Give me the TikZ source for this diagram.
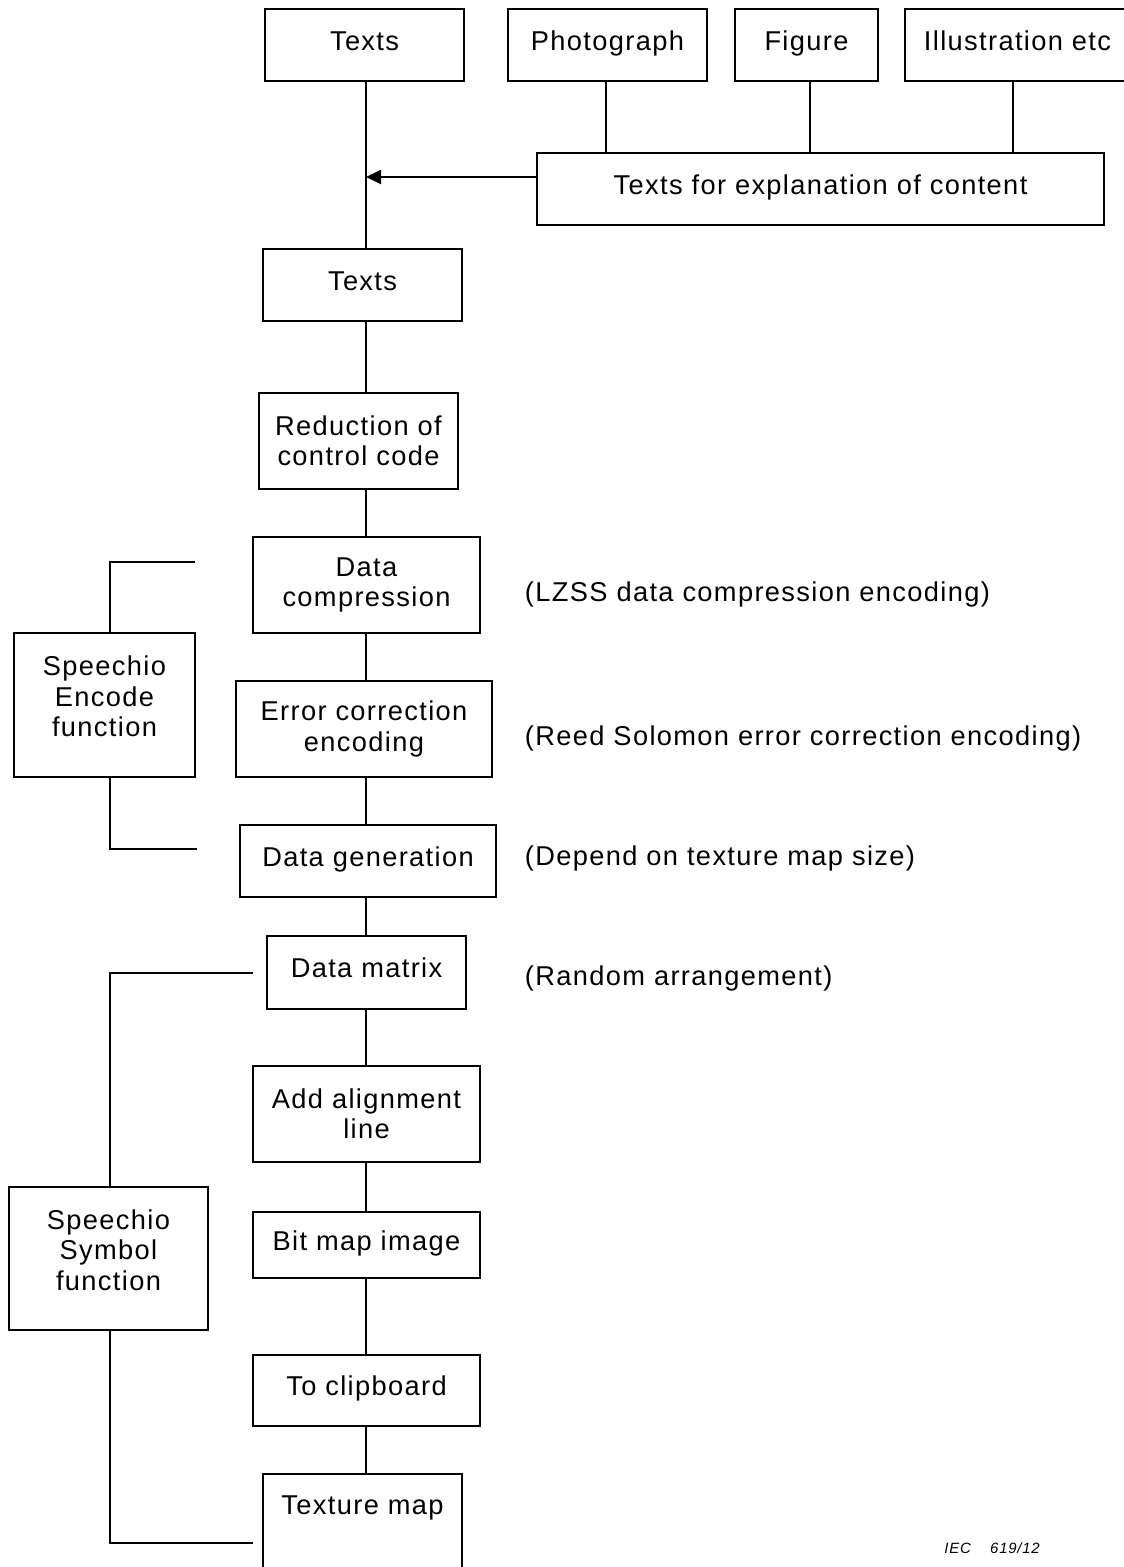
\documentclass[tikz,border=0pt]{standalone}
\usepackage{fontspec}
\setmainfont{Liberation Sans}[LetterSpace=5]
\usepackage{tikz}
\usetikzlibrary{arrows.meta, positioning, calc}

\begin{document}
\begin{tikzpicture}[x=0.02cm, y=-0.02cm, line width=1.1pt,
  box/.style={draw, inner sep=0pt, align=center, font=\fontsize{15.5}{17.3}\selectfont},
  oneline/.style={text height=0.4cm, text depth=0.186cm},
  note/.style={anchor=west, inner sep=0pt, font=\fontsize{15.5}{17.3}\selectfont}]
  \useasboundingbox (0,0) rectangle (1124,1567);
  \clip (0,0) rectangle (1124,1567);
  % Sources
  \node[box, oneline, minimum width=3.98cm, minimum height=1.44cm] (texts) at (364.5,45) {Texts};
  \node[box, oneline, minimum width=3.98cm, minimum height=1.44cm] (photo) at (607.5,45) {Photograph};
  \node[box, oneline, minimum width=2.86cm, minimum height=1.44cm] (figure) at (806.5,45) {Figure};
  \node[box, oneline, minimum width=4.5cm, minimum height=1.44cm] (illus) at (1017.5,45) {Illustration etc};
  \node[box, oneline, minimum width=11.34cm, minimum height=1.44cm] (explain) at (820.5,189) {Texts for explanation of content};
  % Main chain
  \node[box, oneline, minimum width=3.98cm, minimum height=1.44cm] (texts2) at (362.5,285) {Texts};
  \node[box, minimum width=3.98cm, minimum height=1.92cm] (reduce) at (358.5,441) {Reduction of\\control code};
  \node[box, minimum width=4.54cm, minimum height=1.92cm] (compress) at (366.5,585) {Data\\compression};
  \node[box, minimum width=5.12cm, minimum height=1.92cm] (errcorr) at (364,729) {Error correction\\encoding};
  \node[box, oneline, minimum width=5.12cm, minimum height=1.44cm] (datagen) at (368,861) {Data generation};
  \node[box, oneline, minimum width=3.98cm, minimum height=1.46cm] (matrix) at (366.5,972.5) {Data matrix};
  \node[box, minimum width=4.54cm, minimum height=1.92cm] (align) at (366.5,1114) {Add alignment\\line};
  \node[box, oneline, minimum width=4.54cm, minimum height=1.32cm] (bitmap) at (366.5,1245) {Bit map image};
  \node[box, oneline, minimum width=4.54cm, minimum height=1.42cm] (clip) at (366.5,1390.5) {To clipboard};
  \node[box, minimum width=3.98cm, minimum height=2.4cm, anchor=north,
    label={[name=texturelbl, anchor=north, yshift=-0.44cm, inner sep=0pt, font=\fontsize{15.5}{17.3}\selectfont]north:Texture map}] (texture) at (362.5,1473) {};
  % Function groups
  \node[box, minimum width=3.62cm, minimum height=2.88cm, text depth=0.35cm] (encode) at (104.5,705) {Speechio\\Encode\\function};
  \node[box, minimum width=3.98cm, minimum height=2.86cm, text depth=0.35cm] (symbol) at (108.5,1258.5) {Speechio\\Symbol\\function};
  % Notes
  \node[note] (n1) at (524,594) {(LZSS data compression encoding)};
  \node[note] (n2) at (524,738) {(Reed Solomon error correction encoding)};
  \node[note] (n3) at (524,858) {(Depend on texture map size)};
  \node[note] (n4) at (524,978) {(Random arrangement)};
  \node[font=\itshape\fontsize{8.5}{10}\selectfont, inner sep=0pt] (iec) at (992,1548) {IEC\hspace{1.3em}619/12};
  % Connectors
  \coordinate (spine) at (366,0);
  \coordinate (tip) at (366,177);
  \draw (texts.south -| spine) -- (texts2.north -| spine);
  \draw (photo.south -| 606,0) -- (explain.north -| 606,0);
  \draw (figure.south -| 810,0) -- (explain.north -| 810,0);
  \draw (illus.south -| 1013,0) -- (explain.north -| 1013,0);
  \draw[-{Triangle[length=0.3cm, width=0.28cm]}] (explain.west |- tip) -- (tip);
  \foreach \a/\b in {texts2/reduce, reduce/compress, compress/errcorr, errcorr/datagen,
                     datagen/matrix, matrix/align, align/bitmap, bitmap/clip, clip/texture} {
    \draw (\a.south -| spine) -- (\b.north -| spine);
  }
  % Brackets
  \coordinate (brk) at (110,0);
  \coordinate (enctop) at (195,562);
  \coordinate (encbot) at (197,849);
  \coordinate (symtop) at (253,973);
  \coordinate (symbot) at (253,1543);
  \draw (enctop) -| (encode.north -| brk);
  \draw (encode.south -| brk) |- (encbot);
  \draw (symtop) -| (symbol.north -| brk);
  \draw (symbol.south -| brk) |- (symbot);
\end{tikzpicture}
\end{document}
